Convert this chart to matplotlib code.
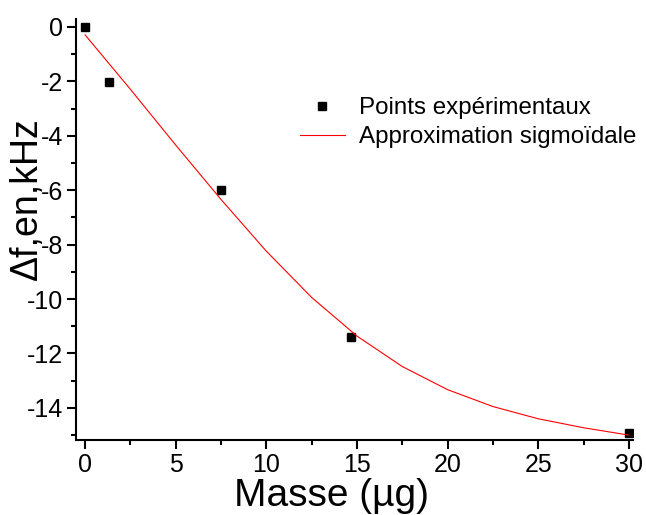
import matplotlib
matplotlib.use("Agg")
import matplotlib.pyplot as plt
from matplotlib.ticker import MultipleLocator

plt.rcParams['font.family'] = ['Liberation Sans', 'DejaVu Sans']
plt.rcParams['axes.unicode_minus'] = False

# experimental points
masse = [0, 1.32, 7.48, 14.67, 30]
delta_f = [0, -2.02, -6.0, -11.39, -14.93]

# sigmoid fit
fit_x = [0, 2.5, 5, 7.5, 10, 12.5, 15, 17.5, 20, 22.5, 25, 27.5, 30]
fit_y = [-0.29, -2.29, -4.34, -6.34, -8.24, -9.94, -11.36, -12.48, -13.33, -13.95, -14.40, -14.73, -15.0]

fig = plt.figure(figsize=(6.46, 5.15), dpi=100)
ax = fig.add_axes([76 / 646, 75 / 515, 557.4 / 646, 421.2 / 515])

ax.plot(masse, delta_f, 's', color='black', markersize=6.3, label='Points expérimentaux')
ax.plot(fit_x, fit_y, '-', color='red', lw=0.8, label='Approximation sigmoïdale')

ax.set_xlim(-0.5, 30.25)
ax.set_ylim(-15.18, 0.3)
ax.xaxis.set_major_locator(MultipleLocator(5))
ax.xaxis.set_minor_locator(MultipleLocator(2.5))
ax.yaxis.set_major_locator(MultipleLocator(2))
ax.yaxis.set_minor_locator(MultipleLocator(1))

for s in ['top', 'right']:
    ax.spines[s].set_visible(False)
for s in ['left', 'bottom']:
    ax.spines[s].set_linewidth(1.5)

ax.tick_params(which='major', direction='out', length=6.5, width=1.5, labelsize=18, pad=3)
ax.tick_params(which='minor', direction='out', length=3.5, width=1.5)

ax.set_xlabel('Masse (µg)', fontsize=28)
ax.xaxis.set_label_coords(0.458, -0.09)
ax.set_ylabel('Δf,en,kHz', fontsize=27)
ax.yaxis.set_label_coords(-0.056, 0.572)

ax.legend(loc='upper left', bbox_to_anchor=(300 / 646, 1 - 97 / 515),
          bbox_transform=fig.transFigure, frameon=False, fontsize=17.4,
          handlelength=1.86, handletextpad=0.6, labelspacing=0.3,
          borderpad=0, borderaxespad=0, numpoints=1)

fig.savefig('out.png', dpi=100)
